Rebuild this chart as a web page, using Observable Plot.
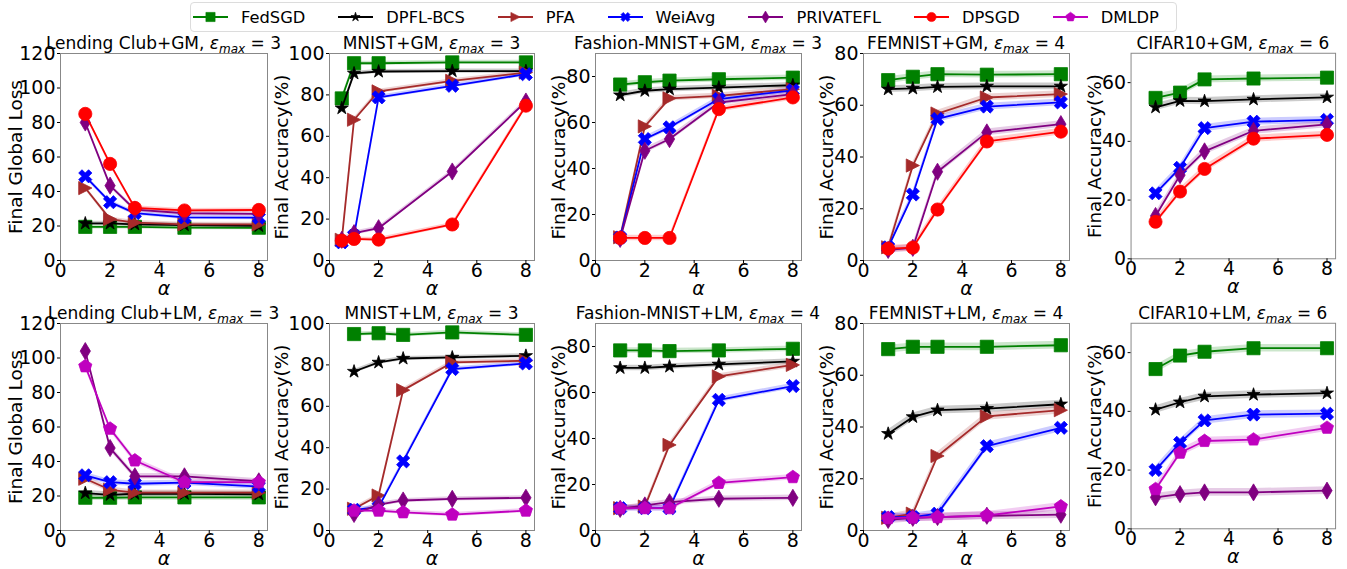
<!DOCTYPE html>
<html><head><meta charset="utf-8">
<script src="https://cdn.jsdelivr.net/npm/d3@7"></script>
<script src="https://cdn.jsdelivr.net/npm/@observablehq/plot@0.6"></script>
<style>
body{margin:0;background:#fff;font-family:"DejaVu Sans",sans-serif;}
#root{position:relative;width:1347px;height:569px;overflow:hidden;background:#fff;}
.panel{position:absolute;}
#legend{position:absolute;left:190px;top:2px;width:987px;height:30px;border:1px solid #dcdcdc;border-radius:4px;box-sizing:border-box;display:flex;align-items:center;padding-left:2px;font-family:"DejaVu Sans";font-size:16.3px;color:#000;white-space:nowrap;}
.item{display:flex;align-items:center;margin-right:33px;flex:0 0 auto;white-space:nowrap;}
.item svg{margin-right:13px;flex:0 0 auto;}
</style></head>
<body><div id="root"><div id="legend"></div></div>
<script>
// ---------- data ----------
const methods = ["FedSGD", "DPFL-BCS", "PFA", "WeiAvg", "PRIVATEFL", "DPSGD", "DMLDP"];
const methodColors = ["#008000", "#000000", "#a52a2a", "#0000ff", "#800080", "#ff0000", "#bf00bf"];
const alphaValues = [1, 2, 3, 5, 8];
const alphaMnistGM = [0.5, 1, 2, 5, 8];
const xTicks = [0, 2, 4, 6, 8];

const panelNames = ["Lending Club+GM", "MNIST+GM", "Fashion-MNIST+GM", "FEMNIST+GM", "CIFAR10+GM",
                    "Lending Club+LM", "MNIST+LM", "Fashion-MNIST+LM", "FEMNIST+LM", "CIFAR10+LM"];
const panelEps = [3, 3, 3, 4, 6, 3, 3, 4, 4, 6];
const panelYLabels = ["Final Global Loss", "Final Accuracy(%)", "Final Accuracy(%)", "Final Accuracy(%)", "Final Accuracy(%)",
                      "Final Global Loss", "Final Accuracy(%)", "Final Accuracy(%)", "Final Accuracy(%)", "Final Accuracy(%)"];
const panelYMax = [120, 100, 90, 80, 70, 120, 100, 90, 80, 70];
const yTicksLoss = [0, 20, 40, 60, 80, 100, 120];
const yTicks100 = [0, 20, 40, 60, 80, 100];
const yTicks80 = [0, 20, 40, 60, 80];
const yTicks60 = [0, 20, 40, 60];
const panelStd = [1.2, 1.0, 1.2, 1.3, 1.2, 1.6, 1.0, 1.2, 1.5, 1.3];

const lendingClubGM = {
  "FedSGD":    [19.5, 19.5, 19.5, 19.0, 19.0],
  "DPFL-BCS":  [21.5, 21.5, 21.0, 20.5, 20.0],
  "PFA":       [42.0, 24.0, 22.0, 21.0, 21.0],
  "WeiAvg":    [48.8, 33.8, 27.5, 25.0, 24.8],
  "PRIVATEFL": [80.0, 43.4, 29.5, 27.4, 27.0],
  "DPSGD":     [85.0, 56.0, 30.5, 29.0, 29.3]
};
const mnistGM = {
  "FedSGD":    [78.3, 95.3, 95.3, 95.7, 95.7],
  "DPFL-BCS":  [73.6, 90.4, 91.3, 91.5, 91.5],
  "PFA":       [10.0, 68.0, 81.7, 86.8, 90.8],
  "WeiAvg":    [8.8, 12.0, 78.8, 84.4, 90.0],
  "PRIVATEFL": [10.0, 13.2, 15.6, 43.0, 76.8],
  "DPSGD":     [9.6, 10.4, 10.1, 17.4, 74.8]
};
const fashionGM = {
  "FedSGD":    [76.5, 77.5, 78.2, 78.8, 79.5],
  "DPFL-BCS":  [71.9, 73.8, 74.5, 75.2, 76.2],
  "PFA":       [10.1, 58.3, 70.5, 71.6, 74.5],
  "WeiAvg":    [10.0, 52.8, 57.9, 70.2, 74.0],
  "PRIVATEFL": [9.4, 47.7, 52.8, 68.7, 72.3],
  "DPSGD":     [9.8, 9.8, 9.8, 65.8, 70.9]
};
const femnistGM = {
  "FedSGD":    [69.7, 71.0, 72.0, 71.8, 72.0],
  "DPFL-BCS":  [66.2, 66.5, 67.1, 67.3, 67.3],
  "PFA":       [5.1, 36.7, 56.8, 63.0, 64.3],
  "WeiAvg":    [5.1, 25.5, 54.7, 59.5, 61.1],
  "PRIVATEFL": [4.1, 4.9, 34.3, 49.5, 52.7],
  "DPSGD":     [4.6, 5.0, 19.7, 46.0, 49.8]
};
const cifarGM = {
  "FedSGD":    [54.8, 56.6, 61.1, 61.4, 61.7],
  "DPFL-BCS":  [51.6, 53.8, 53.7, 54.3, 55.0],
  "WeiAvg":    [22.3, 31.0, 44.5, 46.7, 47.3],
  "PRIVATEFL": [14.6, 28.5, 36.6, 43.6, 45.8],
  "DPSGD":     [12.6, 22.9, 30.6, 40.9, 42.2]
};
const lendingClubLM = {
  "FedSGD":    [19.0, 19.0, 19.2, 19.2, 19.2],
  "DPFL-BCS":  [21.7, 20.7, 21.3, 21.3, 21.0],
  "PFA":       [30.0, 23.6, 21.9, 21.9, 21.9],
  "WeiAvg":    [32.0, 28.0, 27.1, 27.7, 25.5],
  "PRIVATEFL": [104.0, 47.8, 31.4, 31.4, 28.5],
  "DMLDP":     [95.2, 59.0, 40.6, 28.0, 28.0]
};
const mnistLM = {
  "FedSGD":    [94.9, 95.3, 94.5, 95.7, 94.5],
  "DPFL-BCS":  [76.8, 81.2, 83.1, 83.6, 84.4],
  "PFA":       [10.5, 16.9, 67.8, 81.2, 82.0],
  "WeiAvg":    [10.0, 11.3, 33.4, 78.0, 80.7],
  "PRIVATEFL": [8.0, 12.5, 14.5, 15.3, 15.8],
  "DMLDP":     [9.6, 9.6, 8.8, 7.7, 9.6]
};
const fashionLM = {
  "FedSGD":    [78.3, 78.3, 78.0, 78.3, 79.0],
  "DPFL-BCS":  [70.7, 70.7, 71.3, 72.2, 73.5],
  "PFA":       [9.7, 10.4, 37.2, 67.0, 72.0],
  "WeiAvg":    [9.7, 9.7, 9.7, 56.8, 62.8],
  "PRIVATEFL": [9.4, 10.9, 12.3, 13.8, 14.2],
  "DMLDP":     [9.7, 9.7, 9.7, 20.7, 23.2]
};
const femnistLM = {
  "FedSGD":    [70.1, 71.0, 71.0, 71.0, 71.6],
  "DPFL-BCS":  [37.4, 43.9, 46.5, 47.1, 48.8],
  "PFA":       [4.9, 6.5, 28.8, 44.1, 46.5],
  "WeiAvg":    [5.2, 5.2, 6.5, 32.6, 39.7],
  "PRIVATEFL": [4.1, 4.9, 5.2, 5.7, 6.1],
  "DMLDP":     [4.8, 5.0, 5.2, 5.8, 9.3]
};
const cifarLM = {
  "FedSGD":    [54.4, 59.0, 60.3, 61.5, 61.5],
  "DPFL-BCS":  [40.6, 43.1, 45.1, 45.7, 46.2],
  "WeiAvg":    [20.0, 29.3, 36.9, 38.9, 39.2],
  "PRIVATEFL": [10.7, 11.8, 12.4, 12.4, 13.0],
  "DMLDP":     [13.5, 25.9, 29.9, 30.4, 34.4]
};

const panelData = [lendingClubGM, mnistGM, fashionGM, femnistGM, cifarGM,
                   lendingClubLM, mnistLM, fashionLM, femnistLM, cifarLM];
const panelX = [alphaValues, alphaMnistGM, alphaValues, alphaValues, alphaValues,
                alphaValues, alphaValues, alphaValues, alphaValues, alphaValues];
const panelYTicks = [yTicksLoss, yTicks100, yTicks80, yTicks80, yTicks60,
                     yTicksLoss, yTicks100, yTicks80, yTicks80, yTicks60];

// ---------- marker shapes (matplotlib-like) ----------
function poly(ctx, pts) { ctx.moveTo(pts[0][0], pts[0][1]); for (let i = 1; i < pts.length; i++) ctx.lineTo(pts[i][0], pts[i][1]); ctx.closePath(); }
const rOf = size => Math.sqrt(size / Math.PI);
const symSquare = {draw(ctx, size) { const r = rOf(size); poly(ctx, [[-r,-r],[r,-r],[r,r],[-r,r]]); }};
const symCircle = {draw(ctx, size) { const r = rOf(size); ctx.moveTo(r, 0); ctx.arc(0, 0, r, 0, 2 * Math.PI); }};
const symTriRight = {draw(ctx, size) { const r = rOf(size); poly(ctx, [[r,0],[-r,-r],[-r,r]]); }};
const symStar = {draw(ctx, size) { const r = rOf(size) * 1.05, ri = r * 0.381, pts = [];
  for (let k = 0; k < 10; k++) { const a = -Math.PI / 2 + k * Math.PI / 5, rr = k % 2 ? ri : r; pts.push([rr * Math.cos(a), rr * Math.sin(a)]); }
  poly(ctx, pts); }};
const symPentagon = {draw(ctx, size) { const r = rOf(size) * 1.05, pts = [];
  for (let k = 0; k < 5; k++) { const a = -Math.PI / 2 + k * 2 * Math.PI / 5; pts.push([r * Math.cos(a), r * Math.sin(a)]); }
  poly(ctx, pts); }};
const symThinDiamond = {draw(ctx, size) { const r = rOf(size) * 1.3, w = r * 0.6; poly(ctx, [[0,-r],[w,0],[0,r],[-w,0]]); }};
const symXFilled = {draw(ctx, size) { const s = rOf(size) / 2;
  poly(ctx, [[-1,-2],[0,-1],[1,-2],[2,-1],[1,0],[2,1],[1,2],[0,1],[-1,2],[-2,1],[-1,0],[-2,-1]].map(([a,b]) => [a*s, b*s])); }};
const methodSymbols = [symSquare, symStar, symTriRight, symXFilled, symThinDiamond, symCircle, symPentagon];

// ---------- layout ----------
const frameLeft = [60, 329, 595, 863, 1131];
const frameWidth = [207, 205, 206, 206, 206];
const frameTop = [53, 323];
const frameHeight = 207;
const ylabelOffset = [44, 47, 36, 36, 36];
const ML = 62, MR = 12, MT = 32, MB = 38;
const root = d3.select("#root");

for (let idx = 0; idx < 10; idx++) {
  const row = Math.floor(idx / 5), col = idx % 5;
  const data = panelData[idx], xs = panelX[idx], std = panelStd[idx];
  const bands = [], series = [];
  methods.forEach((m, mi) => {
    if (!data[m]) return;
    const rows = data[m].map((v, j) => ({method: m, alpha: xs[j], value: v, lo: Math.max(0, v - std), hi: v + std}));
    bands.push(Plot.areaY(rows, {x: "alpha", y1: "lo", y2: "hi", fill: methodColors[mi], fillOpacity: 0.2}));
    series.push(Plot.line(rows, {x: "alpha", y: "value", stroke: methodColors[mi], strokeWidth: 1.8}));
    series.push(Plot.dot(rows, {x: "alpha", y: "value", symbol: methodSymbols[mi], r: 6.6, fill: methodColors[mi], stroke: methodColors[mi], strokeWidth: 0.8}));
  });
  const w = frameWidth[col];
  const svg = Plot.plot({
    width: w + ML + MR, height: frameHeight + MT + MB,
    marginLeft: ML, marginRight: MR, marginTop: MT, marginBottom: MB,
    style: {background: "transparent", overflow: "visible", fontFamily: "DejaVu Sans", fontSize: "19px", color: "#000"},
    x: {domain: [0, 8.35], label: null},
    y: {domain: [0, panelYMax[idx]], label: null},
    marks: [
      ...bands,
      ...series,
      Plot.frame({stroke: "#888", strokeWidth: 1}),
      Plot.axisX({ticks: xTicks, tickSize: 3, tickPadding: 0, label: null, tickFormat: d => String(d)}),
      Plot.axisY({ticks: panelYTicks[idx], tickSize: 3, tickPadding: 2, label: null, tickFormat: d => String(d)}),
      Plot.text([panelYLabels[idx]], {frameAnchor: "left", dx: -ylabelOffset[col], rotate: -90, fontSize: 18.5, textAnchor: "middle", lineAnchor: "middle"}),
      Plot.text(["α"], {frameAnchor: "bottom", dy: 28, fontSize: 19, fontStyle: "italic", textAnchor: "middle", lineAnchor: "middle"})
    ]
  });
  const t = d3.select(svg).append("text")
    .attr("x", ML + w / 2).attr("y", MT - 4)
    .attr("text-anchor", "middle").attr("font-size", 17).attr("font-family", "DejaVu Sans").attr("fill", "#000");
  t.append("tspan").text(panelNames[idx] + ", ");
  t.append("tspan").attr("font-style", "italic").text("ε");
  t.append("tspan").attr("font-style", "italic").attr("font-size", 12).attr("dy", 4).text("max");
  t.append("tspan").attr("dy", -4).text(" = " + panelEps[idx]);
  const div = root.append("div").attr("class", "panel")
    .style("left", (frameLeft[col] - ML) + "px").style("top", (frameTop[row] - MT) + "px");
  div.node().appendChild(svg);
}

// ---------- legend ----------
const legend = d3.select("#legend");
methods.forEach((m, mi) => {
  const item = legend.append("div").attr("class", "item");
  const sw = item.append("svg").attr("width", 35).attr("height", 16);
  sw.append("line").attr("x1", 0).attr("x2", 35).attr("y1", 8).attr("y2", 8).attr("stroke", methodColors[mi]).attr("stroke-width", 1.8);
  const p = d3.path(); methodSymbols[mi].draw(p, 4.6 * 4.6 * Math.PI);
  sw.append("path").attr("d", p.toString()).attr("transform", "translate(17.5,8)").attr("fill", methodColors[mi]).attr("stroke", methodColors[mi]).attr("stroke-width", 0.6);
  item.append("span").text(m);
});
</script></body></html>
